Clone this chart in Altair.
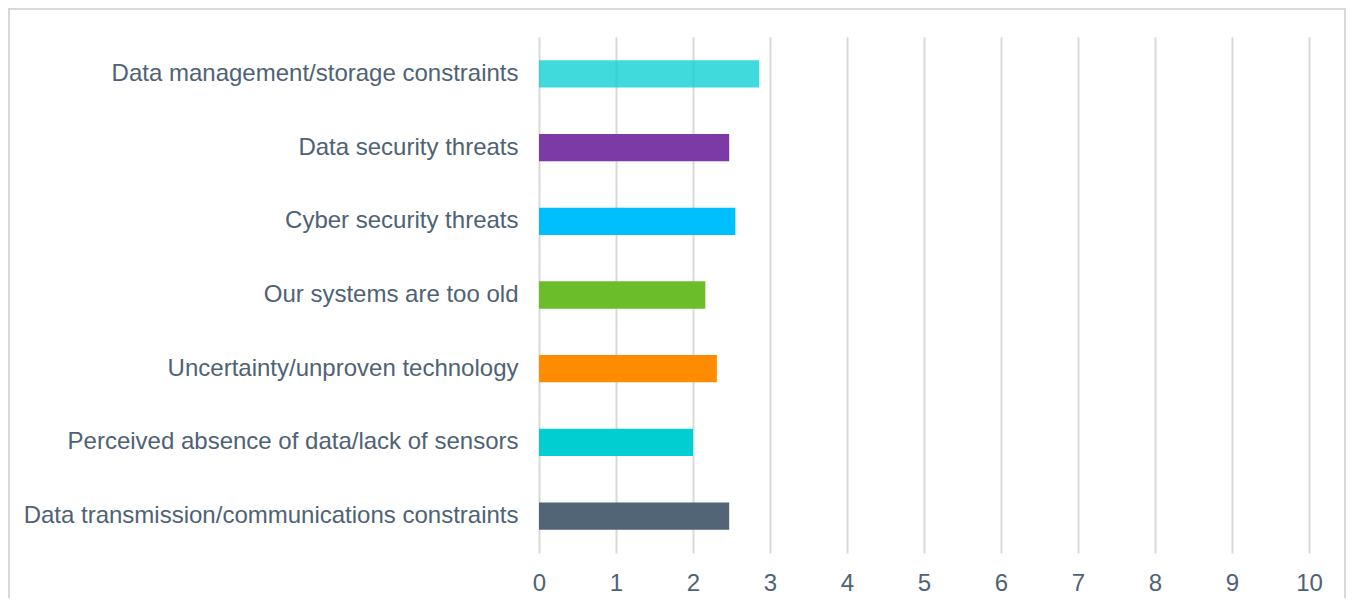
import altair as alt
import pandas as pd

categories = [
    "Data management/storage constraints",
    "Data security threats",
    "Cyber security threats",
    "Our systems are too old",
    "Uncertainty/unproven technology",
    "Perceived absence of data/lack of sensors",
    "Data transmission/communications constraints",
]
values = [2.86, 2.47, 2.55, 2.16, 2.31, 2.0, 2.47]
colors = ["#00CED1", "#7B3AA5", "#00BFFF", "#6BBE2A", "#FF8C00", "#00CED1", "#526576"]
opacities = [0.75, 1, 1, 1, 1, 1, 1]
x_ticks = list(range(0, 11))

df = pd.DataFrame({"category": categories, "value": values, "color": colors, "op": opacities})

TEXT = "#4F6275"
FONT = "Liberation Sans"

bars = alt.Chart(df).mark_bar().encode(
    x=alt.X("value:Q", scale=alt.Scale(domain=[0, 10], nice=False, zero=True),
            axis=alt.Axis(values=x_ticks, title=None, grid=True, gridColor="#D9D9D9", gridWidth=2,
                          domain=False, ticks=False, labelFontSize=24, labelColor=TEXT,
                          labelFont=FONT, labelPadding=18, labelFlush=False)),
    y=alt.Y("category:N", sort=categories,
            scale=alt.Scale(paddingInner=0.63, paddingOuter=0.315),
            axis=alt.Axis(title=None, domain=False, ticks=False, grid=False, labelFontSize=24,
                          labelColor=TEXT, labelFont=FONT, labelPadding=21, labelLimit=600)),
    color=alt.Color("color:N", scale=None, legend=None),
    opacity=alt.Opacity("op:Q", scale=None, legend=None),
)

frame = alt.Chart(pd.DataFrame({"a": [0]})).mark_rect(
    fill=None, stroke="#D9D9D9", strokeWidth=2
).encode(
    x=alt.value(-530), x2=alt.value(806), y=alt.value(-28), y2=alt.value(620)
)

chart = alt.layer(frame, bars).properties(
    width=770, height=516,
    autosize=alt.AutoSizeParams(type="none"),
    padding={"left": 531, "top": 29, "right": 37, "bottom": 45},
    background="white",
).configure_view(strokeWidth=0)

chart.save("out.html", embed_options={"renderer": "svg", "actions": False})
